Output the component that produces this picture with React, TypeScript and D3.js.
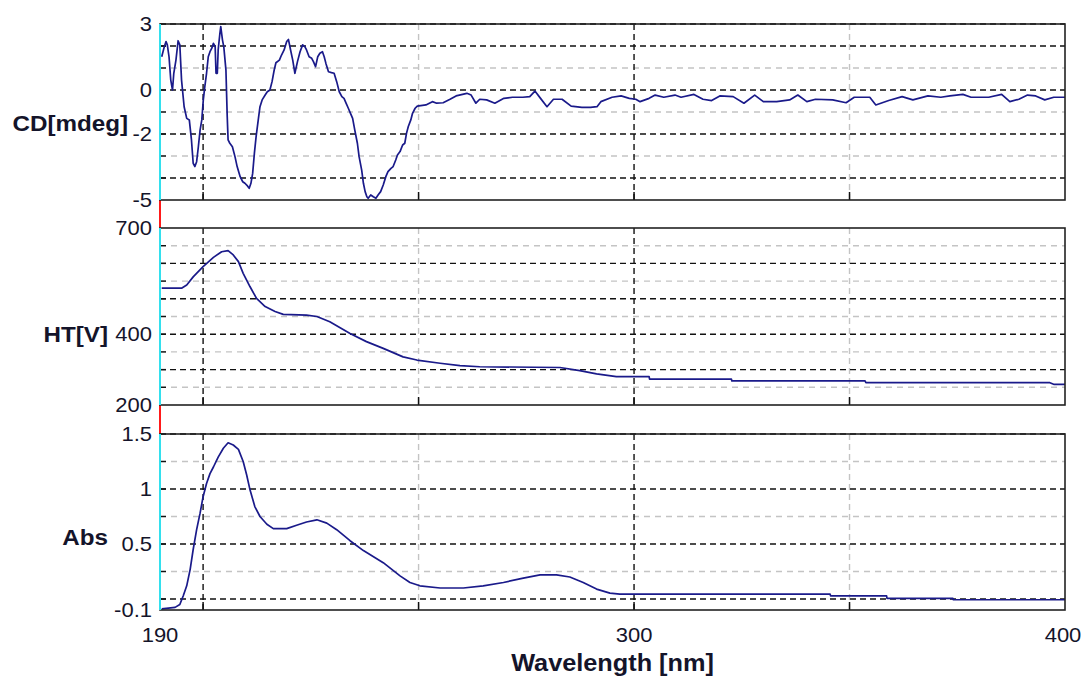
import React from "react";
import * as d3 from "d3";

const W = 1089;
const H = 683;

const xDomain = [190, 400];
const xTickLabels = ["190", "300", "400"];
const xTickValues = [190, 300, 400];
const xMajorGrid = [200, 300];
const xMinorGrid = [250, 350];

const cdWavelength = [
  190.4, 191.0, 191.4, 191.7, 192.1, 192.5, 192.9, 193.2, 193.7, 194.2, 194.6, 195.0, 195.6, 196.2, 196.8,
  197.3, 197.7, 198.1, 198.5, 198.9, 199.3, 199.7, 200.05, 200.4, 200.8, 201.2, 201.6, 202.0, 202.4, 202.8,
  203.0, 203.3, 203.5, 203.9, 204.1, 204.5, 204.8, 205.3, 205.6, 205.8, 206.2, 206.8, 207.4, 207.9, 208.6,
  209.2, 209.7, 210.3, 210.7, 211.1, 211.5, 211.9, 212.3, 212.8, 213.2, 213.7, 214.4, 214.9, 215.5, 216.0,
  216.5, 216.9, 217.7, 218.2, 218.8, 219.4, 219.8, 220.3, 220.8, 221.3, 221.9, 222.5, 223.1, 223.6, 224.0,
  224.6, 225.2, 225.6, 226.1, 226.6, 227.1, 227.7, 228.1, 228.5, 229.1, 229.8, 230.4, 231.0, 231.6, 232.2,
  232.7, 233.2, 233.7, 234.2, 234.7, 235.2, 235.8, 236.2, 236.8, 237.2, 237.6, 238.0, 238.3, 238.9, 239.5,
  240.1, 240.6, 241.2, 241.8, 242.4, 242.9, 243.6, 244.1, 244.7, 245.1, 245.7, 246.3, 246.8, 247.2, 247.6,
  248.2, 248.6, 249.2, 249.7, 251.7, 253.2, 254.2, 255.7, 257.3, 258.7, 261.2, 262.2, 263.3, 264.2, 265.8,
  267.7, 269.8, 271.8, 274.2, 275.8, 277.0, 278.3, 279.8, 281.3, 283.3, 285.4, 287.9, 289.9, 291.4, 292.3,
  294.9, 297.0, 298.9, 300.4, 301.4, 303.5, 304.9, 306.9, 309.5, 310.9, 313.9, 316.0, 318.0, 319.9, 323.0,
  325.5, 328.0, 330.0, 333.1, 336.1, 338.0, 340.1, 342.1, 346.1, 349.2, 351.1, 354.7, 356.1, 359.1, 362.2,
  364.7, 368.2, 371.2, 373.3, 376.3, 378.2, 382.3, 385.3, 387.2, 389.3, 391.3, 393.2, 395.3, 397.4, 400.0,
];
const cdValues = [
  1.51, 1.97, 2.2, 2.05, 1.5, 0.45, 0.0, 0.76, 1.36, 2.24, 2.05, 0.45, -0.76, -1.29, -1.36,
  -2.27, -3.33, -3.48, -3.26, -2.58, -1.82, -1.36, -0.45, 0.15, 0.76, 1.51, 1.74, 1.89, 2.12, 1.97,
  0.76, 0.76, 1.82, 2.58, 2.88, 2.27, 1.97, 0.9, -1.21, -2.27, -2.42, -2.58, -3.03, -3.48, -3.94,
  -4.17, -4.24, -4.36, -4.47, -4.24, -3.79, -2.88, -2.12, -1.36, -0.76, -0.45, -0.23, -0.08, 0.0, 0.38,
  0.91, 1.24, 1.36, 1.59, 1.82, 2.2, 2.3, 1.82, 1.36, 0.76, 1.29, 1.74, 2.05, 1.97, 1.82,
  1.51, 1.44, 1.29, 1.06, 1.51, 1.67, 1.74, 1.51, 1.21, 0.83, 0.79, 0.76, 0.38, -0.08, -0.3,
  -0.38, -0.61, -0.83, -1.06, -1.29, -1.82, -2.42, -3.03, -3.64, -4.24, -4.62, -4.85, -4.92, -4.77, -4.85,
  -4.92, -4.77, -4.62, -4.32, -3.94, -3.71, -3.56, -3.48, -3.18, -2.95, -2.8, -2.5, -2.42, -1.97, -1.67,
  -1.36, -1.06, -0.83, -0.73, -0.68, -0.53, -0.6, -0.58, -0.42, -0.27, -0.15, -0.23, -0.6, -0.42, -0.45,
  -0.6, -0.38, -0.33, -0.33, -0.3, -0.05, -0.38, -0.76, -0.42, -0.42, -0.73, -0.79, -0.79, -0.76, -0.53,
  -0.33, -0.27, -0.38, -0.42, -0.53, -0.38, -0.23, -0.33, -0.23, -0.33, -0.2, -0.42, -0.48, -0.27, -0.3,
  -0.6, -0.23, -0.53, -0.53, -0.45, -0.23, -0.53, -0.42, -0.45, -0.58, -0.33, -0.33, -0.68, -0.48, -0.3,
  -0.45, -0.27, -0.33, -0.27, -0.2, -0.33, -0.33, -0.2, -0.53, -0.42, -0.23, -0.27, -0.45, -0.33, -0.33,
];

const htWavelength = [
  190.4, 195.0, 196.2, 197.7, 200.0, 202.4, 204.3, 205.8, 207.0, 208.2, 209.3, 210.9, 212.4, 214.4, 216.7,
  218.6, 224.0, 226.4, 229.4, 234.1, 237.9, 241.8, 246.4, 249.6, 255.0, 259.6, 264.2, 282.8, 287.4, 291.3,
  295.9, 303.5, 303.6, 322.6, 322.7, 353.6, 353.8, 396.5, 397.5, 400.0,
];
const htValues = [
  530, 530, 539, 562, 591, 617, 633, 636, 624, 605, 572, 534, 501, 478, 464,
  456, 454, 450, 435, 402, 379, 360, 336, 327, 318, 311, 308, 306, 297, 288,
  280, 280, 273, 273, 268, 268, 263, 263, 258, 258,
];

const absWavelength = [
  190.4, 193.5, 194.6, 195.4, 196.2, 197.0, 197.7, 198.5, 199.3, 200.0, 200.8, 201.6, 202.4, 203.5, 204.7,
  205.8, 207.0, 208.2, 209.3, 210.1, 210.9, 212.0, 213.2, 214.8, 216.3, 219.4, 221.7, 224.0, 226.4, 228.7,
  231.0, 234.1, 237.2, 241.8, 245.7, 248.0, 250.3, 255.0, 260.4, 265.0, 269.7, 274.3, 278.2, 282.0, 285.1,
  288.2, 291.3, 294.4, 296.7, 345.5, 345.6, 358.6, 358.7, 374.0, 374.1, 400.0,
];
const absValues = [
  -0.09, -0.076, -0.05, 0.03, 0.12, 0.27, 0.45, 0.63, 0.78, 0.93, 1.05, 1.14, 1.2, 1.29, 1.37,
  1.42, 1.4, 1.36, 1.25, 1.13, 0.99, 0.84, 0.75, 0.68, 0.64, 0.64, 0.67, 0.7, 0.72, 0.69,
  0.63, 0.53, 0.44, 0.33, 0.21, 0.15, 0.12, 0.1, 0.1, 0.12, 0.15, 0.19, 0.22, 0.22, 0.2,
  0.15, 0.09, 0.053, 0.044, 0.044, 0.029, 0.029, 0.005, 0.005, -0.007, -0.007,
];

const cdMajor = [3, 2, 0, -2, -4];
const cdMinor = [1, -1, -3];
const cdTicks = [3, 0, -2, -5];
const cdTickLabels = ["3", "0", "-2", "-5"];

const htMajor = [600, 500, 400, 300];
const htMinor = [650, 550, 450, 350, 250];
const htTicks = [700, 400, 200];
const htTickLabels = ["700", "400", "200"];

const absMajor = [1.5, 1, 0.5, 0];
const absMinor = [1.25, 0.75, 0.25];
const absTicks = [1.5, 1, 0.5, -0.1];
const absTickLabels = ["1.5", "1", "0.5", "-0.1"];

const FONT = "'Liberation Sans', Arial, sans-serif";
const TEXT = "#14142a";
const NAVY = "#1a1a8a";
const LEFT = 160;
const RIGHT = 1065;

const x = d3.scaleLinear().domain(xDomain).range([LEFT, RIGHT]);

type PanelDef = {
  top: number;
  bottom: number;
  domain: [number, number];
  major: number[];
  minor: number[];
  ticks: number[];
  tickLabels: string[];
  label: string;
  labelX: number;
  labelY: number;
  wl: number[];
  vals: number[];
};

const panels: PanelDef[] = [
  { top: 24, bottom: 200, domain: [-5, 3], major: cdMajor, minor: cdMinor, ticks: cdTicks, tickLabels: cdTickLabels,
    label: "CD[mdeg]", labelX: 128, labelY: 131, wl: cdWavelength, vals: cdValues },
  { top: 228, bottom: 405, domain: [200, 700], major: htMajor, minor: htMinor, ticks: htTicks, tickLabels: htTickLabels,
    label: "HT[V]", labelX: 108, labelY: 342, wl: htWavelength, vals: htValues },
  { top: 434, bottom: 610, domain: [-0.1, 1.5], major: absMajor, minor: absMinor, ticks: absTicks, tickLabels: absTickLabels,
    label: "Abs", labelX: 108, labelY: 545, wl: absWavelength, vals: absValues },
];

function SText(props: { x: number; y: number; size: number; bold?: boolean; anchor: string; baseline?: string; children: string }) {
  return (
    <text
      transform={`translate(${props.x},${props.y}) scale(1.1,1)`}
      fontFamily={FONT}
      fontSize={props.size}
      fontWeight={props.bold ? "bold" : "normal"}
      textAnchor={props.anchor}
      dominantBaseline={props.baseline || "auto"}
      fill={TEXT}
    >
      {props.children}
    </text>
  );
}

function Panel({ p }: { p: PanelDef }) {
  const y = d3.scaleLinear().domain(p.domain).range([p.bottom, p.top]);
  const line = d3
    .line<number>()
    .x((_, i) => x(p.wl[i]))
    .y((d) => y(d));
  const path = line(p.vals) || "";
  return (
    <g>
      <rect x={LEFT} y={p.top} width={RIGHT - LEFT} height={p.bottom - p.top} fill="#fff" />
      {p.minor.map((v) => (
        <line key={"mi" + v} x1={LEFT} x2={RIGHT} y1={y(v)} y2={y(v)} stroke="#c4c4c4" strokeWidth={1.4} strokeDasharray="6,5" />
      ))}
      {xMinorGrid.map((v) => (
        <line key={"vx" + v} x1={x(v)} x2={x(v)} y1={p.top} y2={p.bottom} stroke="#c4c4c4" strokeWidth={1.4} strokeDasharray="6,4" />
      ))}
      {p.major.map((v) => (
        <line key={"ma" + v} x1={LEFT} x2={RIGHT} y1={y(v)} y2={y(v)} stroke="#111" strokeWidth={1.4} strokeDasharray="6,4" />
      ))}
      {xMajorGrid.map((v) => (
        <line key={"vX" + v} x1={x(v)} x2={x(v)} y1={p.top} y2={p.bottom} stroke="#111" strokeWidth={1.4} strokeDasharray="6,4" />
      ))}
      {[...p.major, ...p.minor].map((v) => (
        <line key={"lt" + v} x1={LEFT} x2={LEFT + 6} y1={y(v)} y2={y(v)} stroke="#111" strokeWidth={1.4} />
      ))}
      {[...xMajorGrid, ...xMinorGrid].map((v) => (
        <line key={"bt" + v} x1={x(v)} x2={x(v)} y1={p.bottom - 8} y2={p.bottom} stroke="#111" strokeWidth={1.5} />
      ))}
      <path d={path} fill="none" stroke={NAVY} strokeWidth={1.7} strokeLinejoin="round" />
      <rect x={LEFT} y={p.top} width={RIGHT - LEFT} height={p.bottom - p.top} fill="none" stroke="#222" strokeWidth={1.6} />
      <line x1={LEFT} x2={LEFT} y1={p.top} y2={p.bottom} stroke="#33e0ee" strokeWidth={2} />
      {p.ticks.map((v, i) => (
        <SText key={"tl" + v} x={152} y={y(v)} size={20} anchor="end" baseline="central">
          {p.tickLabels[i]}
        </SText>
      ))}
      <SText x={p.labelX} y={p.labelY} size={22} bold anchor="end">
        {p.label}
      </SText>
    </g>
  );
}

export default function App() {
  return (
    <svg width={W} height={H} style={{ position: "absolute", left: 0, top: 0, background: "#fff" }}>
      <rect x={0} y={0} width={W} height={H} fill="#fff" />
      {panels.slice(0, 2).map((p, i) => (
        <line key={"red" + i} x1={LEFT} x2={LEFT} y1={p.bottom} y2={panels[i + 1].top} stroke="#ff1a1a" strokeWidth={2} />
      ))}
      {panels.map((p, i) => (
        <Panel key={i} p={p} />
      ))}
      {xTickValues.map((v, i) => (
        <SText key={"xt" + v} x={v === 400 ? x(v) - 2 : x(v)} y={635} size={20} anchor="middle" baseline="central">
          {xTickLabels[i]}
        </SText>
      ))}
      <SText x={(LEFT + RIGHT) / 2} y={671} size={23} bold anchor="middle">
        Wavelength [nm]
      </SText>
    </svg>
  );
}
